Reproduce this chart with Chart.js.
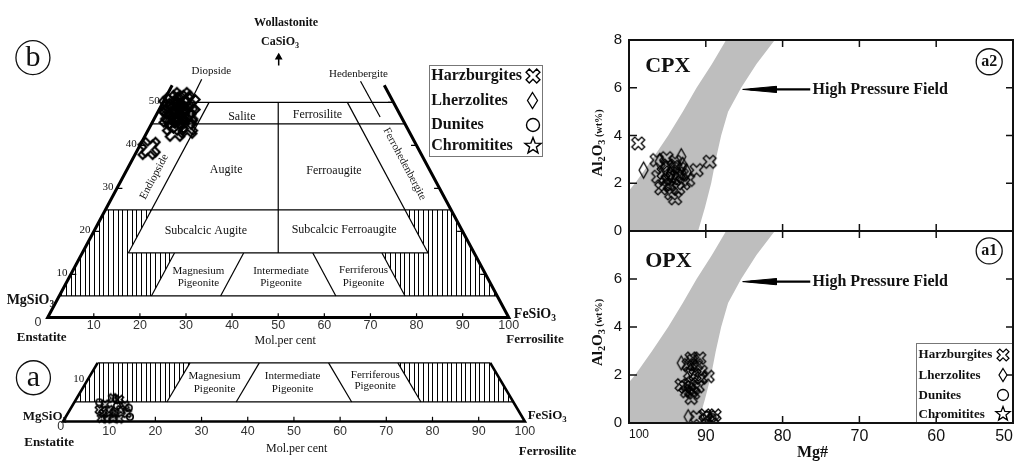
<!DOCTYPE html>
<html>
<head>
<meta charset="utf-8">
<script src="https://cdn.jsdelivr.net/npm/chart.js@4.4.0/dist/chart.umd.min.js"></script>
<style>
body { margin: 0; background: #fff; width: 1018px; height: 461px; overflow: hidden; position: relative; }
canvas { position: absolute; }
</style>
</head>
<body>
<canvas id="quadB" width="580" height="352" style="left:0px;top:0px"></canvas>
<canvas id="quadA" width="580" height="109" style="left:0px;top:352px"></canvas>
<canvas id="cpx" width="438" height="245" style="left:580px;top:0px"></canvas>
<canvas id="opx" width="438" height="236" style="left:580px;top:225px"></canvas>
<script>
// tick values
const molTicks = [0, 10, 20, 30, 40, 50, 60, 70, 80, 90, 100];
const woTicks = [10, 20, 30, 40, 50];
const mgTicks = [50, 60, 70, 80, 90, 100];
const mgInner = [90, 80, 70, 60];
const alInner = [2, 4, 6];

// (b) pyroxene quadrilateral, Fs and Wo mol%
const bHarzFs = [2.0, 3.1, 4.6, 3.1, 4.2, 5.7, 2.9, 4.0, 5.5, 6.8, 4.5, 5.6, 7.0, 5.8, 1.6, 3.5, 4.7, 8.1, 6.0, 8.3, 2.5, 2.2, 3.5, 5.0, 3.0, 6.2, 2.5, 4.5];
const bHarzWo = [50.0, 50.5, 50.0, 48.7, 49.1, 48.7, 47.3, 47.8, 47.3, 47.3, 46.0, 46.2, 46.0, 45.1, 49.1, 51.2, 44.6, 44.6, 43.2, 43.9, 39.6, 39.0, 48.0, 47.0, 46.5, 49.5, 48.5, 50.5];
const bLherFs = [3.1, 6.1, 3.8];
const bLherWo = [49.6, 46.9, 45.5];

// (a) low-Ca part
const aHarzFs = [6.4, 6.9, 7.8, 9.4, 7.7, 8.5, 10.2, 11.0, 12.8, 10.4, 7.9, 11.3, 11.8, 9.2];
const aHarzWo = [3.0, 4.4, 6.0, 5.6, 2.1, 3.0, 2.1, 3.0, 2.1, 0.9, 0.9, 4.2, 0.7, 0.7];
const aLherFs = [8.4, 9.5];
const aLherWo = [5.8, 2.5];
const aDunFs = [12.5, 9.7, 5.4, 13.9];
const aDunWo = [3.5, 4.0, 4.9, 1.2];

// CPX Mg# vs Al2O3
const cpxHarzMg = [98.8, 96.4, 95.1, 96.2, 95.8, 94.9, 94.5, 94.0, 93.6, 92.9, 92.3, 91.2, 89.5, 94.2, 94.0, 94.7, 93.6, 93.8, 94.3, 93.4, 95.5, 93.1, 94.9, 95.3];
const cpxHarzAl = [3.67, 2.97, 3.05, 2.27, 1.79, 2.14, 1.58, 1.37, 2.42, 2.00, 2.14, 2.55, 2.90, 2.69, 2.90, 1.93, 1.79, 2.30, 2.20, 2.60, 2.45, 2.35, 2.75, 1.95];
const cpxLherMg = [98.1, 93.2, 92.5, 95.3, 96.0, 93.0, 94.6];
const cpxLherAl = [2.55, 3.11, 2.48, 2.63, 2.90, 2.75, 2.35];

// OPX Mg# vs Al2O3
const opxHarzMg = [91.9, 90.8, 92.3, 91.2, 90.6, 89.7, 91.4, 92.1, 93.2, 92.1, 91.0, 92.5, 91.6, 91.9, 90.6, 92.7, 91.5, 92.0, 91.7, 91.2, 90.1, 89.5, 88.8, 89.9, 89.0];
const opxHarzAl = [2.70, 2.70, 2.43, 2.43, 2.15, 1.94, 2.00, 2.08, 1.59, 1.59, 1.52, 1.31, 1.24, 1.03, 1.87, 1.50, 1.45, 1.35, 2.60, 0.26, 0.33, 0.26, 0.33, 0.12, 0.12];
const opxLherMg = [93.2, 92.3, 92.0];
const opxLherAl = [2.50, 0.26, 2.20];
const opxDunMg = [89.8, 89.2];
const opxDunAl = [0.30, 0.22];

// high pressure field outline
const hpMg = [100, 100, 99.2, 97.0, 94.9, 93.0, 91.2, 89.2, 86.8, 80.3, 83.4, 85.4, 87.1, 88.0, 88.7, 89.3, 90.1, 91.0];
const hpAl = [0, 1.7, 2.0, 3.0, 4.0, 5.0, 6.0, 7.0, 8.3, 8.3, 7.0, 6.0, 5.0, 4.0, 3.0, 2.0, 1.0, 0];
const arrowMg = [76.4, 85.2];

// field boundaries [Fs, Wo]
const bEdges = [[[0, 54], [0, 0], [100, 0], [46, 54]]];
const bFields = [
  [[0, 50], [50, 50]], [[0, 45], [55, 45]], [[0, 25], [75, 25]], [[10, 15], [75, 15]], [[0, 5], [95, 5]],
  [[10, 50], [10, 15]], [[40, 50], [75, 15]], [[25, 50], [42.5, 15]],
  [[20, 15], [20, 5]], [[35, 15], [35, 5]], [[50, 15], [60, 5]], [[65, 15], [75, 5]],
  [[5.7, 55.4], [6.0, 48.5]], [[40.4, 54.9], [48.8, 46.6]]
];
const bHatch = [
  [[0, 5], [0, 25], [10, 25], [10, 15], [20, 15], [20, 5]],
  [[75, 5], [65, 15], [75, 15], [65, 25], [75, 25], [95, 5]]
];
const aEdges = [[[0, 15], [0, 0], [100, 0], [85, 15]]];
const aFields = [
  [[0, 15], [85, 15]], [[0, 5], [95, 5]],
  [[20, 15], [20, 5]], [[35, 15], [35, 5]], [[50, 15], [60, 5]], [[65, 15], [75, 5]]
];
const aHatch = [
  [[0, 5], [0, 15], [20, 15], [20, 5]],
  [[75, 5], [65, 15], [85, 15], [95, 5]]
];

const SERIF = "'Liberation Serif', 'Times New Roman', serif";
const SANS = "'Liberation Sans', Arial, sans-serif";

function marker(kind, w, h, lw) {
  h = h || w;
  const n = Math.ceil(Math.max(w, h) + lw * 2 + 2);
  const c = document.createElement('canvas');
  c.width = c.height = n;
  const g = c.getContext('2d');
  g.translate(n / 2, n / 2);
  g.strokeStyle = '#000';
  g.lineWidth = lw;
  g.lineJoin = 'miter';
  g.beginPath();
  if (kind === 'x') {
    const s = w / 2, t = s * 0.3;
    const p = [[t, s], [t, t], [s, t], [s, -t], [t, -t], [t, -s], [-t, -s], [-t, -t], [-s, -t], [-s, t], [-t, t], [-t, s]];
    g.rotate(Math.PI / 4);
    p.forEach((q, i) => i ? g.lineTo(q[0], q[1]) : g.moveTo(q[0], q[1]));
  } else if (kind === 'd') {
    g.moveTo(0, -h / 2); g.lineTo(w / 2, 0); g.lineTo(0, h / 2); g.lineTo(-w / 2, 0);
  } else if (kind === 'o') {
    g.arc(0, 0, w / 2, 0, Math.PI * 2);
  } else {
    for (let i = 0; i < 10; i++) {
      const r = i % 2 ? w * 0.21 : w / 2, a = -Math.PI / 2 + i * Math.PI / 5;
      i ? g.lineTo(r * Math.cos(a), r * Math.sin(a)) : g.moveTo(r * Math.cos(a), r * Math.sin(a));
    }
  }
  g.closePath();
  g.stroke();
  return c;
}

function hatchPattern(id) {
  const c = document.createElement('canvas');
  c.width = 47; c.height = 8;
  const g = c.getContext('2d');
  g.strokeStyle = '#000';
  g.lineWidth = 1;
  for (let i = 0; i < 10; i++) {
    const x = Math.round(i * 4.7) + 0.5;
    g.beginPath(); g.moveTo(x, 0); g.lineTo(x, 8); g.stroke();
  }
  return document.getElementById(id).getContext('2d').createPattern(c, 'repeat');
}

function drawText(ctx, px, py, it) {
  const size = it.size || 12, weight = it.weight || 'normal', fam = it.family || SERIF;
  const parts = typeof it.text === 'string' ? [[it.text, 0]] : it.text;
  const fontOf = k => `${weight} ${k ? size * 0.68 : size}px ${fam}`;
  let total = 0;
  const widths = parts.map(p => { ctx.font = fontOf(p[1]); const w = ctx.measureText(p[0]).width; total += w; return w; });
  ctx.translate(px, py);
  if (it.rot) ctx.rotate(it.rot * Math.PI / 180);
  let x0 = it.align === 'left' ? 0 : it.align === 'right' ? -total : -total / 2;
  ctx.fillStyle = it.color || '#111';
  ctx.textBaseline = 'middle';
  ctx.textAlign = 'left';
  parts.forEach((p, i) => {
    ctx.font = fontOf(p[1]);
    ctx.fillText(p[0], x0, p[1] === 1 ? size * 0.3 : p[1] === 2 ? size * 0.05 : 0);
    x0 += widths[i];
  });
}

// texts, rings, boxes and legend symbols placed in data units
function textLayer(items) {
  return {
    id: 'textLayer',
    afterDatasetsDraw(chart) {
      const ctx = chart.ctx, sx = chart.scales.x, sy = chart.scales.y;
      items.forEach(it => {
        const px = sx.getPixelForValue(it.x), py = sy.getPixelForValue(it.y);
        ctx.save();
        if (it.box) {
          const x1 = sx.getPixelForValue(it.box[0]), y1 = sy.getPixelForValue(it.box[1]);
          ctx.strokeStyle = '#777'; ctx.lineWidth = 1;
          ctx.strokeRect(Math.round(px) + 0.5, Math.round(py) + 0.5, Math.round(x1 - px), Math.round(y1 - py));
        }
        if (it.img) ctx.drawImage(it.img, Math.round(px - it.img.width / 2), Math.round(py - it.img.height / 2));
        if (it.ring) {
          ctx.beginPath(); ctx.arc(px, py, it.ring, 0, Math.PI * 2);
          ctx.lineWidth = 1.3; ctx.strokeStyle = '#111'; ctx.stroke();
        }
        if (it.text != null) drawText(ctx, px, py, it);
        ctx.restore();
      });
    }
  };
}

const framePlugin = {
  id: 'frame',
  afterDraw(chart) {
    const { ctx, chartArea: a, scales: { x, y } } = chart;
    ctx.save();
    ctx.strokeStyle = '#111';
    ctx.lineWidth = 2;
    ctx.strokeRect(a.left, a.top, a.right - a.left, a.bottom - a.top);
    ctx.lineWidth = 1.5;
    ctx.beginPath();
    mgInner.forEach(v => {
      const p = x.getPixelForValue(v);
      ctx.moveTo(p, a.bottom); ctx.lineTo(p, a.bottom - 7);
      ctx.moveTo(p, a.top); ctx.lineTo(p, a.top + 7);
    });
    alInner.forEach(v => {
      const p = y.getPixelForValue(v);
      ctx.moveTo(a.left, p); ctx.lineTo(a.left + 8, p);
      ctx.moveTo(a.right, p); ctx.lineTo(a.right - 7, p);
    });
    ctx.stroke();
    ctx.restore();
  }
};

const tp = (fs, wo) => ({ x: fs + wo / 2, y: wo });
const polyline = (pts, w) => ({ type: 'line', data: pts.map(p => tp(p[0], p[1])), borderColor: '#000', borderWidth: w, pointRadius: 0, fill: false, order: 2 });
const hatchSet = (pts, pat) => ({ type: 'line', data: pts.concat([pts[0]]).map(p => tp(p[0], p[1])), borderWidth: 0, borderColor: 'rgba(0,0,0,0)', backgroundColor: pat, fill: 'shape', pointRadius: 0, order: 3 });
const ternPoints = (fs, wo, img) => ({ data: fs.map((f, i) => tp(f, wo[i])), pointStyle: img, pointRadius: 4, order: 1 });
const mgPoints = (mg, al, img) => ({ data: mg.map((m, i) => ({ x: m, y: al[i] })), pointStyle: img, pointRadius: 4, order: 1 });

function quadChart(id, xr, yr, datasets, items) {
  return new Chart(document.getElementById(id), {
    type: 'scatter',
    data: { datasets },
    options: {
      responsive: false, animation: false, events: [],
      layout: { padding: 0 },
      scales: {
        x: { type: 'linear', display: false, min: xr[0], max: xr[1] },
        y: { type: 'linear', display: false, min: yr[0], max: yr[1] }
      },
      plugins: { legend: { display: false }, tooltip: { enabled: false } }
    },
    plugins: [textLayer(items)]
  });
}

// ---- (b) ----
const bX = marker('x', 20, 0, 2.1), bD = marker('d', 10, 16, 1.6);
const legBig = [marker('x', 15, 0, 1.4), marker('d', 10, 16, 1.3), marker('o', 13, 0, 1.4), marker('s', 17, 0, 1.4)];
const legNames = ['Harzburgites', 'Lherzolites', 'Dunites', 'Chromitites'];
const patB = hatchPattern('quadB');
const bSets = [ternPoints(bHarzFs, bHarzWo, bX), ternPoints(bLherFs, bLherWo, bD)]
  .concat(bEdges.map(p => polyline(p, 3)))
  .concat(bFields.map(p => polyline(p, 1.2)))
  .concat(bHatch.map(p => hatchSet(p, patB)))
  .concat(molTicks.slice(1, 10).map(v => polyline([[v, 0], [v - 0.5, 1]], 1.2)))
  .concat(woTicks.map(w => ({ type: 'line', data: [{ x: w / 2, y: w }, { x: w / 2 + 1.2, y: w }], borderColor: '#000', borderWidth: 1.2, pointRadius: 0, order: 2 })))
  .concat(woTicks.map(w => ({ type: 'line', data: [{ x: 100 - w / 2, y: w }, { x: 98.8 - w / 2, y: w }], borderColor: '#000', borderWidth: 1.2, pointRadius: 0, order: 2 })))
  .concat([{ type: 'line', data: [{ x: 50.1, y: 58.6 }, { x: 50.1, y: 60.5 }], borderColor: '#000', borderWidth: 1.5,
    pointRadius: [0, 3], pointStyle: 'triangle', backgroundColor: '#000', order: 2 }]);
const bItems = [
  { x: 51.7, y: 68.4, text: 'Wollastonite', size: 12, weight: 'bold' },
  { x: 50.4, y: 64.0, text: [['CaSiO', 0], ['3', 1]], size: 12, weight: 'bold' },
  { x: 35.5, y: 57.2, text: 'Diopside', size: 11 },
  { x: 67.4, y: 56.5, text: 'Hedenbergite', size: 11 },
  { x: 42.1, y: 46.7, text: 'Salite', size: 12 },
  { x: 58.5, y: 47.1, text: 'Ferrosilite', size: 12 },
  { x: 38.7, y: 34.2, text: 'Augite', size: 12 },
  { x: 62.1, y: 34.1, text: 'Ferroaugite', size: 12 },
  { x: 23.1, y: 32.7, text: 'Endiopside', size: 11, rot: -62 },
  { x: 77.4, y: 35.7, text: 'Ferrohedenbergite', size: 11, rot: 62 },
  { x: 34.3, y: 20.1, text: 'Subcalcic Augite', size: 12 },
  { x: 64.3, y: 20.3, text: 'Subcalcic Ferroaugite', size: 12 },
  { x: 32.7, y: 10.7, text: 'Magnesium', size: 11 },
  { x: 32.7, y: 8.0, text: 'Pigeonite', size: 11 },
  { x: 50.6, y: 10.7, text: 'Intermediate', size: 11 },
  { x: 50.6, y: 8.0, text: 'Pigeonite', size: 11 },
  { x: 68.5, y: 11.0, text: 'Ferriferous', size: 11 },
  { x: 68.5, y: 8.0, text: 'Pigeonite', size: 11 },
  { x: -8.9, y: 3.9, text: [['MgSiO', 0], ['3', 1]], size: 14, weight: 'bold', align: 'left' },
  { x: -1.3, y: -4.8, text: 'Enstatite', size: 13, weight: 'bold' },
  { x: 51.5, y: -5.4, text: 'Mol.per cent', size: 12 },
  { x: 101.1, y: 0.8, text: [['FeSiO', 0], ['3', 1]], size: 14, weight: 'bold', align: 'left' },
  { x: 105.7, y: -5.2, text: 'Ferrosilite', size: 13, weight: 'bold' },
  { x: -3.2, y: 60.4, text: 'b', size: 30, ring: 17 },
  { x: 82.8, y: 58.6, box: [107.4, 37.4] }
].concat(woTicks.map(w => ({ x: w / 2 - 1.9, y: w + 0.2, text: String(w), size: 11 })))
  .concat(molTicks.map(v => v === 0
    ? { x: -2.1, y: -1.1, text: '0', size: 12.5, family: SANS, color: '#333' }
    : { x: v, y: -1.8, text: String(v), size: 12.5, family: SANS, color: '#333' }))
  .concat(legNames.map((t, i) => ({ x: 83.2, y: [56.1, 50.45, 44.8, 39.9][i], text: t, size: 16, weight: 'bold', align: 'left' })))
  .concat(legBig.map((m, i) => ({ x: 105.2, y: [56.1, 50.45, 44.8, 39.9][i], img: m })));
quadChart('quadB', [-9.149, 114.255], [-6.757, 72.523], bSets, bItems);

// ---- (a) ----
const patA = hatchPattern('quadA');
const aSets = [
  ternPoints(aHarzFs, aHarzWo, marker('x', 9, 0, 1.6)),
  ternPoints(aLherFs, aLherWo, marker('d', 6, 9, 1.4)),
  ternPoints(aDunFs, aDunWo, marker('o', 6.5, 0, 1.6))
].concat(aEdges.map(p => polyline(p, 2.6)))
  .concat(aFields.map(p => polyline(p, 1.2)))
  .concat(aHatch.map(p => hatchSet(p, patA)))
  .concat(molTicks.slice(1, 10).map(v => polyline([[v, 0], [v - 0.6, 1.2]], 1.2)));
const aItems = [
  { x: -6.4, y: 11.2, text: 'a', size: 30, ring: 17 },
  { x: 3.4, y: 10.8, text: '10', size: 11 },
  { x: 32.8, y: 11.6, text: 'Magnesium', size: 11 },
  { x: 32.8, y: 8.4, text: 'Pigeonite', size: 11 },
  { x: 49.7, y: 11.6, text: 'Intermediate', size: 11 },
  { x: 49.7, y: 8.4, text: 'Pigeonite', size: 11 },
  { x: 67.6, y: 11.9, text: 'Ferriferous', size: 11 },
  { x: 67.6, y: 9.0, text: 'Pigeonite', size: 11 },
  { x: -8.7, y: 1.2, text: [['MgSiO', 0], ['3', 1]], size: 13, weight: 'bold', align: 'left' },
  { x: -3.0, y: -5.35, text: 'Enstatite', size: 13, weight: 'bold' },
  { x: 50.6, y: -6.9, text: 'Mol.per cent', size: 12 },
  { x: 100.6, y: 1.4, text: [['FeSiO', 0], ['3', 1]], size: 13, weight: 'bold', align: 'left' },
  { x: 104.9, y: -7.7, text: 'Ferrosilite', size: 13, weight: 'bold' }
].concat(molTicks.map(v => v === 0
  ? { x: -0.5, y: -1.2, text: '0', size: 12.5, family: SANS, color: '#333' }
  : { x: v, y: -2.5, text: String(v), size: 12.5, family: SANS, color: '#333' }));
quadChart('quadA', [-12.553, 110.851], [-8.837, 16.512], aSets, aItems);

// ---- Mg# charts ----
function fieldSet() {
  return { type: 'line', data: hpMg.concat([hpMg[0]]).map((m, i) => ({ x: m, y: hpAl.concat([hpAl[0]])[i] })),
    fill: 'shape', backgroundColor: '#bebebe', borderWidth: 0, borderColor: 'rgba(0,0,0,0)', pointRadius: 0, order: 5 };
}
function arrowSets(al) {
  return [
    { type: 'line', data: [{ x: arrowMg[0], y: al }, { x: arrowMg[1] - 1, y: al }], borderColor: '#000', borderWidth: 2.2, pointRadius: 0, order: 2 },
    { type: 'line', data: [{ x: arrowMg[1], y: al }, { x: arrowMg[1] - 4.4, y: al + 0.13 }, { x: arrowMg[1] - 4.4, y: al - 0.13 }, { x: arrowMg[1], y: al }],
      fill: 'shape', backgroundColor: '#000', borderColor: '#000', borderWidth: 1, pointRadius: 0, order: 2 }
  ];
}
const alTitle = [['Al', 0], ['2', 1], ['O', 0], ['3', 1], [' (wt%)', 2]];

function mgChart(id, cfg) {
  return new Chart(document.getElementById(id), {
    type: 'scatter',
    data: { datasets: cfg.datasets },
    options: {
      responsive: false, animation: false, events: [],
      layout: { padding: cfg.padding },
      scales: {
        x: {
          type: 'linear', min: 50, max: 100, reverse: true, display: cfg.showX,
          afterBuildTicks: s => { s.ticks = mgTicks.map(v => ({ value: v })); },
          afterFit: s => { s.height = cfg.showX ? 38 : 0; s.paddingLeft = 0; s.paddingRight = 0; },
          grid: { display: false, drawTicks: false }, border: { display: false },
          ticks: { autoSkip: false, maxRotation: 0, align: 'inner', padding: 4, color: '#111',
            font: c => ({ family: SANS, size: c.tick && c.tick.value === 100 ? 12 : 16 }) }
        },
        y: {
          type: 'linear', min: 0, max: 8,
          afterBuildTicks: s => { s.ticks = cfg.yTicks.map(v => ({ value: v })); },
          afterFit: s => { s.width = 49; s.paddingTop = 0; s.paddingBottom = 0; },
          grid: { display: false, drawTicks: false }, border: { display: false },
          ticks: { padding: 7, color: '#111', font: { family: SANS, size: 15 } }
        }
      },
      plugins: { legend: { display: false }, tooltip: { enabled: false } }
    },
    plugins: [framePlugin, textLayer(cfg.items)]
  });
}

mgChart('cpx', {
  showX: false,
  padding: { top: 40, right: 4, bottom: 14, left: 0 },
  yTicks: [0, 2, 4, 6, 8],
  datasets: [
    mgPoints(cpxHarzMg, cpxHarzAl, marker('x', 14, 0, 1.3)),
    mgPoints(cpxLherMg, cpxLherAl, marker('d', 9, 16, 1.3)),
    fieldSet()
  ].concat(arrowSets(5.93)),
  items: [
    { x: 97.9, y: 6.88, text: 'CPX', size: 22, weight: 'bold', align: 'left' },
    { x: 76.1, y: 5.93, text: 'High Pressure Field', size: 16, weight: 'bold', align: 'left' },
    { x: 53.1, y: 7.09, text: 'a2', size: 16, weight: 'bold', ring: 13 },
    { x: 104.0, y: 3.69, text: alTitle, size: 15, weight: 'bold', rot: -90 }
  ]
});

const legSmall = [marker('x', 13, 0, 1.2), marker('d', 8, 13, 1.2), marker('o', 11, 0, 1.3), marker('s', 15, 0, 1.3)];
const legRows = [2.85, 1.99, 1.15, 0.36];
mgChart('opx', {
  showX: true,
  padding: { top: 6, right: 4, bottom: 0, left: 0 },
  yTicks: [0, 2, 4, 6],
  datasets: [
    mgPoints(opxHarzMg, opxHarzAl, marker('x', 13, 0, 1.3)),
    mgPoints(opxLherMg, opxLherAl, marker('d', 8, 14, 1.3)),
    mgPoints(opxDunMg, opxDunAl, marker('o', 8, 0, 1.3)),
    fieldSet()
  ].concat(arrowSets(5.89)),
  items: [
    { x: 97.9, y: 6.75, text: 'OPX', size: 22, weight: 'bold', align: 'left' },
    { x: 76.1, y: 5.89, text: 'High Pressure Field', size: 16, weight: 'bold', align: 'left' },
    { x: 53.1, y: 7.17, text: 'a1', size: 16, weight: 'bold', ring: 13 },
    { x: 104.0, y: 3.77, text: alTitle, size: 15, weight: 'bold', rot: -90 },
    { x: 76.1, y: -1.26, text: 'Mg#', size: 16, weight: 'bold' },
    { x: 62.6, y: 3.35, box: [50, 0] }
  ].concat(legNames.map((t, i) => ({ x: 62.3, y: legRows[i], text: t, size: 13, weight: 'bold', align: 'left' })))
   .concat(legSmall.map((m, i) => ({ x: 51.3, y: legRows[i], img: m })))
});
</script>
</body>
</html>
